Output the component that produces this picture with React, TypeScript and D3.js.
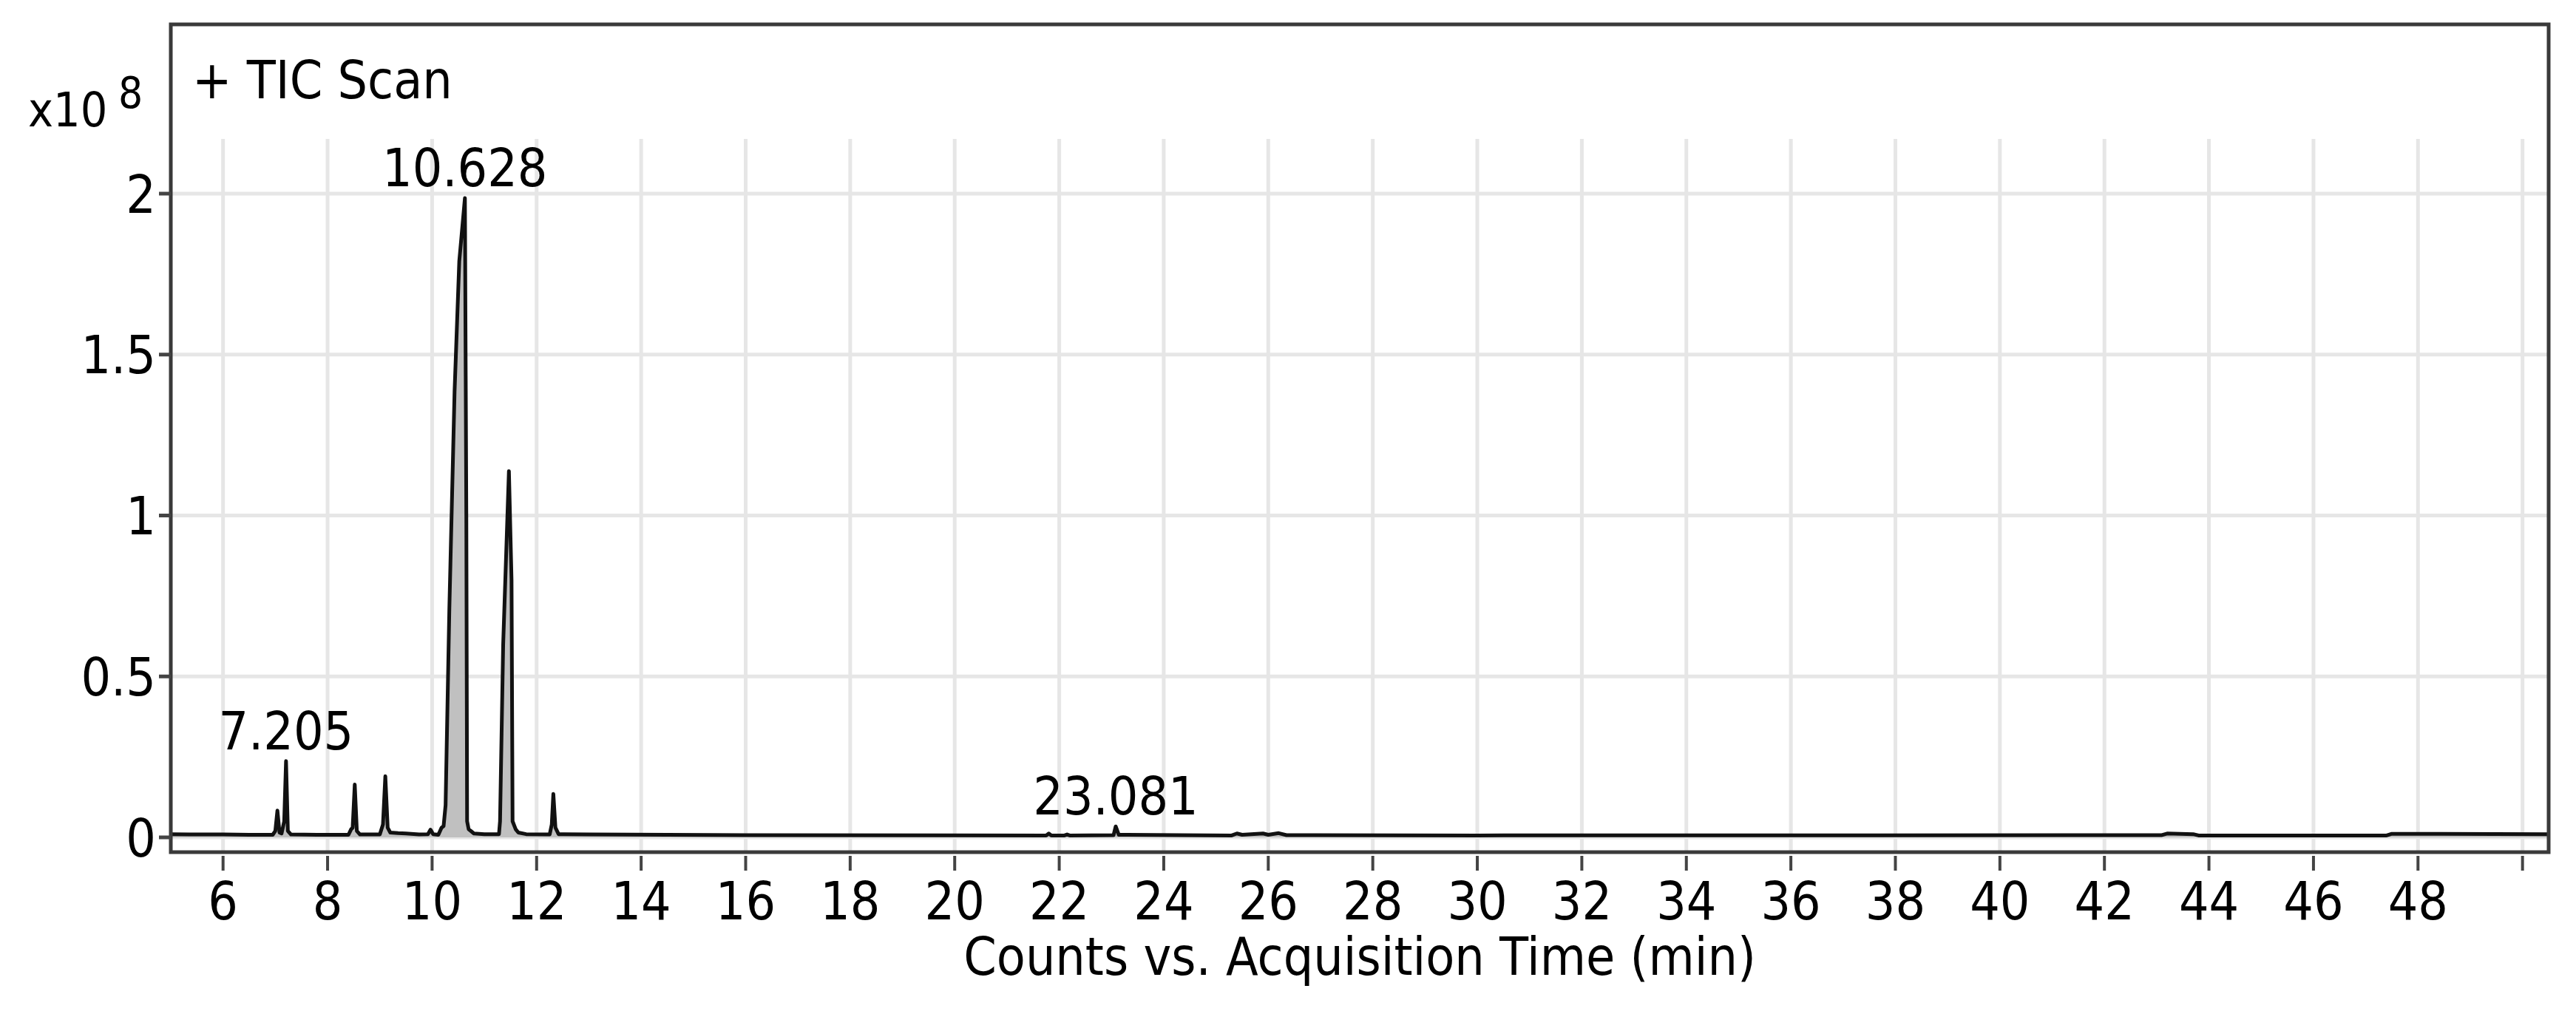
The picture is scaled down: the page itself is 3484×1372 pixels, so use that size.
import React from "react";
import * as d3 from "d3";

// TIC chromatogram, counts in units of 1e8
const retentionTimes = [
  5.0, 5.5, 6.0, 6.5, 6.95, 7.0, 7.04, 7.08, 7.12, 7.17, 7.205, 7.24, 7.3, 7.8,
  8.4, 8.45, 8.48, 8.52, 8.56, 8.62, 9.0, 9.06, 9.105, 9.15, 9.2, 9.35, 9.5,
  9.75, 9.92, 9.97, 10.02, 10.12, 10.18, 10.22, 10.258, 10.33, 10.43, 10.52,
  10.628, 10.655, 10.67, 10.7, 10.74, 10.8, 11.0, 11.28, 11.3, 11.36, 11.47,
  11.52, 11.54, 11.6, 11.65, 11.8, 12.25, 12.29, 12.32, 12.36, 12.42, 13.0,
  16.0, 21.75, 21.8, 21.85, 22.1, 22.15, 22.2, 23.04, 23.081, 23.14, 25.3,
  25.4, 25.5, 25.9, 26.0, 26.2, 26.35, 30.0, 43.1, 43.2, 43.7, 43.8, 47.4,
  47.5, 50.5,
];
const intensities = [
  0.01, 0.009, 0.009, 0.008, 0.008, 0.02, 0.083, 0.015, 0.012, 0.05, 0.237,
  0.02, 0.009, 0.008, 0.008, 0.025, 0.03, 0.164, 0.02, 0.009, 0.009, 0.04,
  0.19, 0.03, 0.015, 0.013, 0.012, 0.009, 0.01, 0.024, 0.01, 0.008, 0.03,
  0.035, 0.1, 0.71, 1.385, 1.79, 1.986, 1.0, 0.05, 0.025, 0.02, 0.012, 0.01,
  0.01, 0.05, 0.6, 1.138, 0.8, 0.05, 0.025, 0.015, 0.01, 0.009, 0.04, 0.135,
  0.03, 0.01, 0.009, 0.007, 0.006, 0.012, 0.006, 0.006, 0.009, 0.006, 0.007,
  0.034, 0.008, 0.006, 0.012, 0.008, 0.012, 0.008, 0.013, 0.007, 0.006,
  0.007, 0.012, 0.01, 0.006, 0.006, 0.011, 0.01,
];

const peakTimes = [7.205, 10.628, 23.081];
const peakHeights = [0.237, 1.986, 0.034];
const peakLabels = ["7.205", "10.628", "23.081"];

const xTicks = d3.range(6, 51, 2);
const xTickLabels = xTicks.map((t) => (t < 50 ? String(t) : ""));
const yTicks = [0, 0.5, 1, 1.5, 2];
const yTickLabels = ["0", "0.5", "1", "1.5", "2"];

const W = 3484;
const H = 1372;
const box = { left: 231, top: 33, right: 3447, bottom: 1153 };
const font = "'DejaVu Sans Condensed', 'DejaVu Sans', sans-serif";
const fs = 71;

export default function App() {
  const x = d3.scaleLinear().domain([5, 50.5]).range([box.left, box.right]);
  const y = d3.scaleLinear().domain([0, 2]).range([1133, 262]);
  const gridTop = y(2.17);

  const pts: [number, number][] = retentionTimes.map((t, i) => [t, intensities[i]]);
  const area = d3
    .area<[number, number]>()
    .x((d) => x(d[0]))
    .y0(y(0))
    .y1((d) => y(d[1]));
  const line = d3
    .line<[number, number]>()
    .x((d) => x(d[0]))
    .y((d) => y(d[1]));

  const textStyle = { fontFamily: font, fontStretch: "condensed" as const };

  return (
    <svg
      width={W}
      height={H}
      style={{ position: "absolute", left: 0, top: 0, background: "#fff" }}
    >
      <defs>
        <clipPath id="plot">
          <rect
            x={box.left}
            y={box.top}
            width={box.right - box.left}
            height={box.bottom - box.top}
          />
        </clipPath>
      </defs>
      <rect x={0} y={0} width={W} height={H} fill="#fff" />

      <g clipPath="url(#plot)">
        {xTicks.map((t) => (
          <line
            key={"gx" + t}
            x1={x(t)}
            x2={x(t)}
            y1={gridTop}
            y2={box.bottom}
            stroke="#e6e6e6"
            strokeWidth={5}
          />
        ))}
        {yTicks.map((v) => (
          <line
            key={"gy" + v}
            x1={box.left}
            x2={box.right}
            y1={y(v)}
            y2={y(v)}
            stroke="#e6e6e6"
            strokeWidth={5}
          />
        ))}
        <path d={area(pts) || ""} fill="#c0c0c0" />
        <path
          d={line(pts) || ""}
          fill="none"
          stroke="#111"
          strokeWidth={5}
          strokeLinejoin="round"
        />
      </g>

      {peakTimes.map((t, i) => (
        <text
          key={"pk" + i}
          x={x(t)}
          y={y(peakHeights[i]) - 16}
          textAnchor="middle"
          fontSize={fs}
          style={textStyle}
          fill="#000"
        >
          {peakLabels[i]}
        </text>
      ))}

      <rect
        x={box.left}
        y={box.top}
        width={box.right - box.left}
        height={box.bottom - box.top}
        fill="none"
        stroke="#3a3a3a"
        strokeWidth={5}
      />

      <text x={260} y={133} fontSize={fs} style={textStyle} fill="#000">
        + TIC Scan
      </text>
      <text x={38} y={171} fontSize={64} style={textStyle} fill="#000">
        x10
      </text>
      <text x={160} y={146} fontSize={58} style={textStyle} fill="#000">
        8
      </text>

      {yTicks.map((v, i) => (
        <g key={"yt" + v}>
          <line
            x1={215}
            x2={box.left}
            y1={y(v)}
            y2={y(v)}
            stroke="#444"
            strokeWidth={5}
          />
          <text
            x={211}
            y={y(v)}
            dy="0.36em"
            textAnchor="end"
            fontSize={fs}
            style={textStyle}
            fill="#000"
          >
            {yTickLabels[i]}
          </text>
        </g>
      ))}

      {xTicks.map((t, i) => (
        <g key={"xt" + t}>
          <line
            x1={x(t)}
            x2={x(t)}
            y1={1158}
            y2={1178}
            stroke="#444"
            strokeWidth={4}
          />
          <text
            x={x(t)}
            y={1244}
            textAnchor="middle"
            fontSize={fs}
            style={textStyle}
            fill="#000"
          >
            {xTickLabels[i]}
          </text>
        </g>
      ))}

      <text
        x={(box.left + box.right) / 2}
        y={1319}
        textAnchor="middle"
        fontSize={fs}
        style={textStyle}
        fill="#000"
      >
        Counts vs. Acquisition Time (min)
      </text>
    </svg>
  );
}
